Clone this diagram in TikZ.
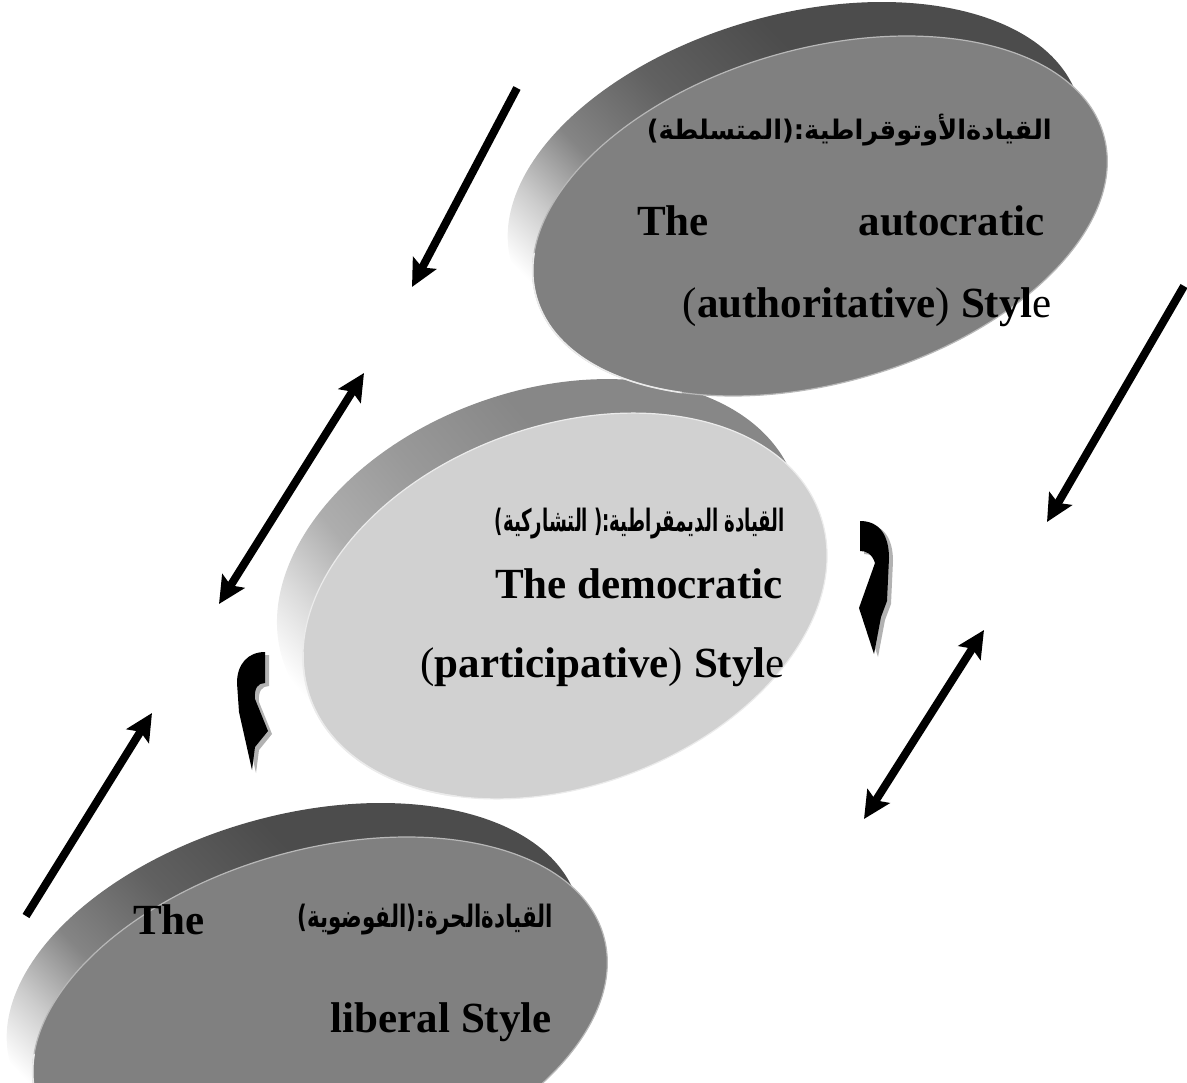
\documentclass[tikz,border=0pt]{standalone}
\usepackage{graphicx}
\usepackage{fontspec}
\setmainfont{Liberation Serif}
\newfontfamily\arabicfont[Script=Arabic]{DejaVu Sans}
\TeXXeTstate=1
\usetikzlibrary{arrows.meta}

% rim of a disc: light only at the far lower left, dark towards the top
\pgfdeclareverticalshading{rimdark}{100bp}{color(0bp)=(white); color(25bp)=(white); color(31bp)=(black!20); color(38bp)=(black!48); color(48bp)=(black!62); color(60bp)=(black!70); color(100bp)=(black!70)}
\pgfdeclareverticalshading{rimlight}{100bp}{color(0bp)=(white); color(25bp)=(white); color(31bp)=(black!14); color(38bp)=(black!32); color(48bp)=(black!40); color(60bp)=(black!47); color(100bp)=(black!47)}

% Arabic line set in a box of given width and total height
\newcommand\artext[3]{\resizebox*{#1}{#2}{\arabicfont\bfseries #3}}

\begin{document}
\begin{tikzpicture}[x=1pt,y=-1pt,
  eng/.style={inner sep=0pt, font=\fontsize{43}{50}\selectfont},
  arab/.style={inner sep=0pt},
  conn/.style={line width=8pt, black},
  headtip/.style={-{Stealth[length=27pt,width=26pt,inset=5pt]}},
  bothtips/.style={{Stealth[length=27pt,width=26pt,inset=5pt]}-{Stealth[length=27pt,width=26pt,inset=5pt]}},
  hookshadow/.style={fill=black!30},
  gleam/.style={draw=white!92!black, line width=1.6pt},
]
\useasboundingbox (0,0) rectangle (1187,1083);
\clip (0,0) rectangle (1187,1083);

% ---------- discs ----------
\coordinate (libC) at (320,1017);
\coordinate (libB) at (294,983);
\coordinate (demC) at (565,606);
\coordinate (demB) at (539,572);
\coordinate (autC) at (820,216);
\coordinate (autB) at (795,182);

% liberal (bottom)
\shade[shading=rimdark, shading angle=-46, rotate around={16:(libB)}] (libB) ellipse [x radius=295, y radius=167];
\fill[black!50, draw=black!28, line width=1.2pt, rotate around={16:(libC)}] (libC) ellipse [x radius=295, y radius=167];
\begin{scope}[shift={(libC)}, rotate=16]
  \draw[gleam] (195:295 and 167) arc [start angle=195, end angle=128, x radius=295, y radius=167];
\end{scope}

% democratic (middle)
\shade[shading=rimlight, shading angle=-50, rotate around={20:(demB)}] (demB) ellipse [x radius=271, y radius=180];
\fill[black!18, draw=black!8, line width=1.2pt, rotate around={20:(demC)}] (demC) ellipse [x radius=271, y radius=180];
\begin{scope}[shift={(demC)}, rotate=20]
  \draw[gleam] (195:271 and 180) arc [start angle=195, end angle=128, x radius=271, y radius=180];
\end{scope}

% autocratic (top)
\shade[shading=rimdark, shading angle=-46, rotate around={16:(autB)}] (autB) ellipse [x radius=295, y radius=167];
\fill[black!50, draw=black!28, line width=1.2pt, rotate around={16:(autC)}] (autC) ellipse [x radius=295, y radius=167];
\begin{scope}[shift={(autC)}, rotate=16]
  \draw[gleam] (195:295 and 167) arc [start angle=195, end angle=128, x radius=295, y radius=167];
\end{scope}

% ---------- texts ----------
\node[arab, anchor=east] (autAr) at (1052,130) {\artext{405pt}{32pt}{\beginR القيادةالأوتوقراطية:(المتسلطة)\endR}};
\node[eng, anchor=base west] (autThe) at (637,236) {\bfseries The};
\node[eng, anchor=base east] (autWord) at (1045,236) {\bfseries autocratic};
\node[eng, anchor=base east] (autStyle) at (1052,318) {(\textbf{authoritative}) \textbf{Styl}e};

\node[arab, anchor=east] (demAr) at (785,524) {\artext{290pt}{31pt}{\beginR القيادة الديمقراطية:( التشاركية)\endR}};
\node[eng, anchor=base east] (demWord) at (783,598) {\bfseries The democratic};
\node[eng, anchor=base east] (demStyle) at (785,677) {(\textbf{participative}) \textbf{Styl}e};

\node[eng, anchor=base west] (libThe) at (133,934) {\bfseries The};
\node[arab, anchor=east] (libAr) at (553,920) {\artext{255pt}{31pt}{\beginR القيادةالحرة:(الفوضوية)\endR}};
\node[eng, anchor=base east] (libStyle) at (552,1032) {\bfseries liberal Style};

% ---------- arrows ----------
\coordinate (a1s) at (517,88);   \coordinate (a1e) at (412,287);
\coordinate (a2s) at (219,604);  \coordinate (a2e) at (364,373);
\coordinate (a3s) at (1184,286); \coordinate (a3e) at (1047,522);
\coordinate (a4s) at (864,819);  \coordinate (a4e) at (984,630);
\coordinate (a5s) at (26,916);   \coordinate (a5e) at (152,713);

\draw[conn, headtip] (a1s) -- (a1e);
\draw[conn, bothtips] (a2s) -- (a2e);
\draw[conn, headtip] (a3s) -- (a3e);
\draw[conn, bothtips] (a4s) -- (a4e);
\draw[conn, headtip] (a5s) -- (a5e);

% ---------- curved hooks ----------
\begin{scope}[shift={(4,3)}]
  \fill[hookshadow] (265,652) .. controls (248,652) and (237,664) .. (237,683) -- (239,712) -- (252,770) -- (255,747) -- (268,731) -- (255,699) .. controls (254,688) and (258,683) .. (265,683) -- cycle;
  \fill[hookshadow] (860,521) .. controls (880,521) and (889,536) .. (889,558) -- (887,601) -- (881,617) -- (874,654) -- (859,608) -- (875,563) .. controls (872,554) and (867,551) .. (860,551) -- cycle;
\end{scope}
\fill[black] (265,652) .. controls (248,652) and (237,664) .. (237,683) -- (239,712) -- (252,770) -- (255,747) -- (268,731) -- (255,699) .. controls (254,688) and (258,683) .. (265,683) -- cycle;
\fill[black] (860,521) .. controls (880,521) and (889,536) .. (889,558) -- (887,601) -- (881,617) -- (874,654) -- (859,608) -- (875,563) .. controls (872,554) and (867,551) .. (860,551) -- cycle;
\end{tikzpicture}
\end{document}
